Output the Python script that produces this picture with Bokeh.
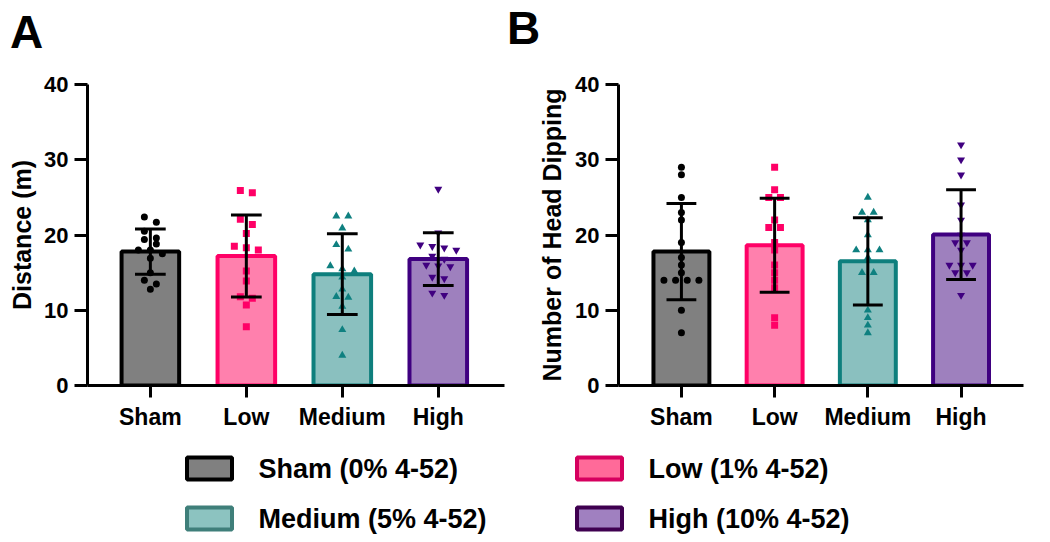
from bokeh.plotting import figure
from bokeh.layouts import column, row
from bokeh.models import FixedTicker, Range1d
from bokeh.embed import file_html
from bokeh.resources import INLINE
from bokeh.core.properties import value

# ---------------- data ----------------
groups = ["Sham", "Low", "Medium", "High"]
legend_labels = ["Sham (0% 4-52)", "Low (1% 4-52)", "Medium (5% 4-52)", "High (10% 4-52)"]
panel_letters = ["A", "B"]

# Panel A: Distance (m)
dist_mean = [17.8, 17.2, 14.8, 16.8]
dist_sd = [3.0, 5.45, 5.35, 3.5]
dist_sham = [22.4, 21.7, 20.5, 19.6, 19.4, 18.8, 18.0, 18.0, 17.5, 16.9, 15.0, 14.0, 13.5, 12.8]
dist_low = [25.9, 25.6, 22.1, 21.4, 20.2, 18.5, 18.3, 18.0, 15.2, 13.9, 11.8, 11.6, 10.7, 7.8]
dist_medium = [22.5, 22.5, 20.9, 18.7, 18.1, 15.9, 15.5, 15.2, 14.4, 12.8, 11.8, 11.7, 10.5, 7.4, 4.0]
dist_high = [26.1, 20.3, 18.7, 18.5, 18.3, 18.0, 17.2, 16.8, 16.0, 15.9, 15.8, 14.4, 14.2, 12.3, 12.0]

# Panel B: Number of head dipping
dip_mean = [17.8, 18.65, 16.5, 20.05]
dip_sd = [6.4, 6.25, 5.8, 5.95]
dip_sham = [29, 28, 25, 23, 22, 19, 17, 16, 15, 14, 14, 14, 14, 10, 7]
dip_low = [29, 26, 25, 25, 22, 21, 21, 19, 18, 16, 15, 14, 13, 9, 8]
dip_medium = [25, 23, 23, 22, 20, 18, 18, 18, 17, 15, 15, 10, 9, 8, 7]
dip_high = [32, 30, 28, 24, 22, 20, 19, 19, 18, 16, 16, 16, 15, 15, 12]

y_ticks = [0, 10, 20, 30, 40]

# ---------------- styles ----------------
FONT = "Liberation Sans"
bar_fill = ["#808080", "#FF80AD", "#8AC0BF", "#9E80BE"]
bar_line = ["#000000", "#FF0066", "#0E7F7D", "#3F0080"]
pt_color = ["#000000", "#FF0066", "#0F8080", "#400080"]
markers = ["circle", "square", "triangle", "inverted_triangle"]
msizes = [7, 7, 8, 8]
leg_fill = ["#808080", "#FF6A99", "#8CC3C0", "#A080C0"]
leg_line = ["#000000", "#D6005F", "#3F7F7A", "#3F0050"]


def swarm(vals, thresh, step):
    order = sorted(vals, reverse=True)
    rows = []
    for v in order:
        if rows and rows[-1][0] - v < thresh:
            rows[-1].append(v)
        else:
            rows.append([v])
    xs, ys = [], []
    for r in rows:
        k = len(r)
        for i, v in enumerate(r):
            xs.append((i - (k - 1) / 2) * step)
            ys.append(v)
    return xs, ys


def blank(w, h):
    f = figure(width=w, height=h, x_range=Range1d(0, w), y_range=Range1d(h, 0),
               output_backend="svg", toolbar_location=None, x_axis_type=None, y_axis_type=None,
               min_border=0)
    f.grid.visible = False
    f.outline_line_color = None
    return f


def panel(ylabel, means, sds, points, xr, fig_w, left, right, lab_standoff):
    p = figure(width=fig_w, height=370, x_range=Range1d(*xr), y_range=Range1d(0, 40),
               output_backend="svg", toolbar_location=None,
               min_border_left=left, min_border_right=right,
               min_border_top=14, min_border_bottom=55)
    p.grid.visible = False
    p.outline_line_color = None
    xs = [1, 2, 3, 4]
    p.vbar(x=xs, top=means, bottom=0, width=0.6, fill_color=bar_fill,
           line_color=bar_line, line_width=4)
    for i, vals in enumerate(points):
        ox, oy = swarm(vals, 0.9, 0.125)
        p.scatter([xs[i] + o for o in ox], oy, marker=markers[i], size=msizes[i],
                  color=pt_color[i], line_width=0)
    lo = [m - s for m, s in zip(means, sds)]
    hi = [m + s for m, s in zip(means, sds)]
    p.segment(x0=xs, y0=lo, x1=xs, y1=hi, line_color="black", line_width=3)
    cw = 0.16
    for yy in (lo, hi):
        p.segment(x0=[x - cw for x in xs], y0=yy, x1=[x + cw for x in xs], y1=yy,
                  line_color="black", line_width=3)

    for ax in (p.xaxis[0], p.yaxis[0]):
        ax.axis_line_width = 3
        ax.major_tick_line_width = 3
        ax.minor_tick_line_color = None
        ax.major_tick_in = 0
        ax.major_label_text_font = FONT
        ax.major_label_text_font_style = "bold"
        ax.major_label_text_color = "black"
        ax.axis_line_color = "black"
        ax.major_tick_line_color = "black"
    p.xaxis.ticker = FixedTicker(ticks=xs)
    p.xaxis.major_label_overrides = {x: g for x, g in zip(xs, groups)}
    p.xaxis.major_tick_out = 12
    p.xaxis.major_label_text_font_size = "23px"
    p.xaxis.major_label_standoff = 6
    p.yaxis.ticker = FixedTicker(ticks=y_ticks)
    p.yaxis.major_tick_out = 13
    p.yaxis.major_label_text_font_size = "22px"
    p.yaxis.major_label_standoff = 6
    p.yaxis.axis_label = ylabel
    p.yaxis.axis_label_text_font = FONT
    p.yaxis.axis_label_text_font_style = "bold"
    p.yaxis.axis_label_text_font_size = "25px"
    p.yaxis.axis_label_text_color = "black"
    p.yaxis.axis_label_standoff = lab_standoff
    return p


# header with panel letters
pH = blank(1048, 70)
pH.text(x=[26, 523], y=[31, 27], text=panel_letters, text_font=value(FONT),
        text_font_style="bold", text_font_size="46px", text_baseline="middle",
        text_align="center", text_color="black")

pA = panel("Distance (m)", dist_mean, dist_sd,
           [dist_sham, dist_low, dist_medium, dist_high],
           (0.345, 4.69), 515, 87, 11, 5)
pB = panel("Number of Head Dipping", dip_mean, dip_sd,
           [dip_sham, dip_low, dip_medium, dip_high],
           (0.325, 4.67), 533, 103, 25, 6)

# ---------------- legend ----------------
pL = blank(1048, 100)
col_x = [209, 599]
row_y = [28, 78]
lx = [col_x[i % 2] for i in range(4)]
ly = [row_y[i // 2] for i in range(4)]
pL.rect(x=lx, y=ly, width=45, height=22, fill_color=leg_fill, line_color=leg_line, line_width=4)
pL.text(x=[x + 49 for x in lx], y=ly, text=legend_labels, text_font=value(FONT),
        text_font_style="bold", text_font_size="27px", text_baseline="middle",
        text_color="black")

layout = column(pH, row(pA, pB), pL)
open("out.html", "w").write(file_html(layout, INLINE))
